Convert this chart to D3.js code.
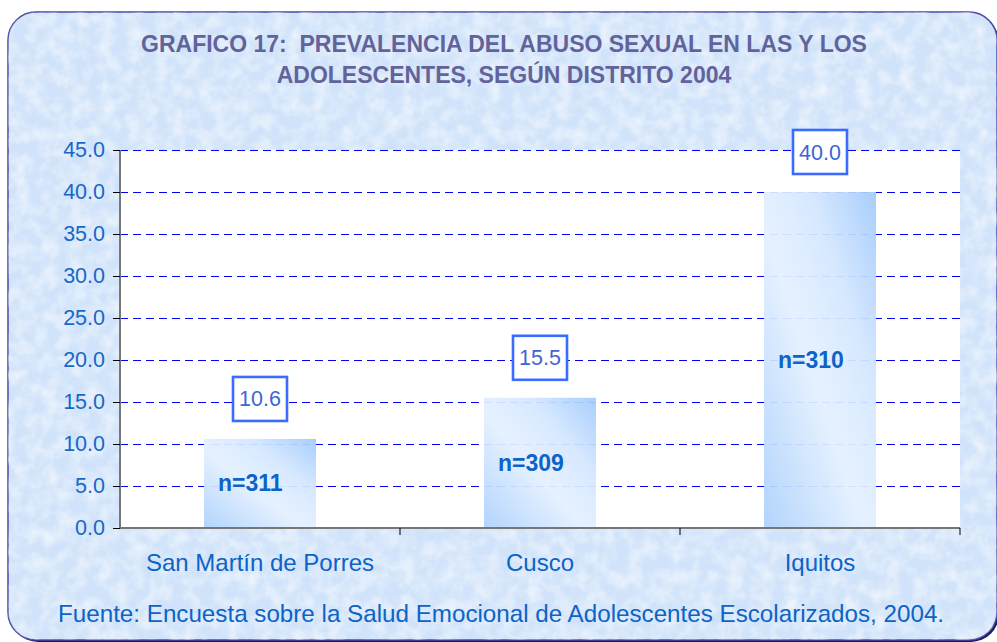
<!DOCTYPE html>
<html>
<head>
<meta charset="utf-8">
<script src="https://cdn.jsdelivr.net/npm/d3@7"></script>
<style>
  html, body { margin: 0; padding: 0; background: #ffffff; }
  svg { display: block; font-family: Arial, "Liberation Sans", sans-serif; }
</style>
</head>
<body>
<svg id="chart" width="997" height="642"></svg>
<script>
// ---- data ----
const categories = ["San Martín de Porres", "Cusco", "Iquitos"];
const values = [10.6, 15.5, 40.0];
const nLabels = ["n=311", "n=309", "n=310"];
const yTicks = [0, 5, 10, 15, 20, 25, 30, 35, 40, 45];
const titleLines = ["GRAFICO 17:  PREVALENCIA DEL ABUSO SEXUAL EN LAS Y LOS", "ADOLESCENTES, SEGÚN DISTRITO 2004"];
const sourceText = "Fuente: Encuesta sobre la Salud Emocional de Adolescentes Escolarizados, 2004.";

// ---- layout ----
const svg = d3.select("#chart");
const plot = { left: 120, right: 960, top: 150, bottom: 528 };

const defs = svg.append("defs");
const filt = defs.append("filter").attr("id", "tex").attr("x", 0).attr("y", 0).attr("width", "100%").attr("height", "100%");
filt.append("feTurbulence").attr("type", "fractalNoise").attr("baseFrequency", 0.07).attr("numOctaves", 3).attr("seed", 4).attr("result", "noise");
filt.append("feColorMatrix").attr("in", "noise").attr("type", "matrix")
  .attr("values", "0 0 0 0 1  0 0 0 0 1  0 0 0 0 1  0 0 0 1.8 -0.6").attr("result", "spots");
filt.append("feComposite").attr("in", "spots").attr("in2", "SourceGraphic").attr("operator", "in");

const grad = defs.append("linearGradient").attr("id", "barGrad")
  .attr("x1", "0").attr("y1", "1").attr("x2", "1").attr("y2", "0");
grad.append("stop").attr("offset", "0%").attr("stop-color", "#acd1fc");
grad.append("stop").attr("offset", "45%").attr("stop-color", "#e4f0ff");
grad.append("stop").attr("offset", "70%").attr("stop-color", "#d4e7ff");
grad.append("stop").attr("offset", "100%").attr("stop-color", "#a2cafb");

const clip = defs.append("clipPath").attr("id", "frameClip");
clip.append("rect").attr("x", 8).attr("y", 12).attr("width", 989).attr("height", 628).attr("rx", 28).attr("ry", 28);

// shadow for bottom-right
svg.append("rect").attr("x", 10).attr("y", 14).attr("width", 989).attr("height", 628)
  .attr("rx", 28).attr("ry", 28).attr("fill", "#1a1a5a");
// frame background
svg.append("rect").attr("x", 8).attr("y", 12).attr("width", 989).attr("height", 628)
  .attr("rx", 28).attr("ry", 28).attr("fill", "#d0e3fa").attr("stroke", "#4a4aa0").attr("stroke-width", 1.5);
svg.append("rect").attr("x", 8).attr("y", 12).attr("width", 989).attr("height", 628)
  .attr("clip-path", "url(#frameClip)").attr("fill", "#eef3fc").attr("filter", "url(#tex)").attr("opacity", 0.6);

// title
svg.append("g").selectAll("text").data(titleLines).join("text")
  .attr("x", 504).attr("y", (d, i) => 52 + i * 31)
  .attr("text-anchor", "middle")
  .style("white-space", "pre")
  .attr("font-size", 23).attr("font-weight", "bold").attr("fill", "#62639b")
  .text(d => d);

// scales
const x = d3.scaleBand().domain(categories).range([plot.left, plot.right]).paddingInner(0.6).paddingOuter(0.3);
const y = d3.scaleLinear().domain([0, 45]).range([plot.bottom, plot.top]);
const step = x.step();

// plot area
svg.append("rect").attr("x", plot.left).attr("y", plot.top)
  .attr("width", plot.right - plot.left).attr("height", plot.bottom - plot.top).attr("fill", "#ffffff");

// gridlines
svg.append("g").selectAll("line").data(yTicks.filter(d => d > 0)).join("line")
  .attr("x1", plot.left).attr("x2", plot.right)
  .attr("y1", d => Math.round(y(d)) + 0.5).attr("y2", d => Math.round(y(d)) + 0.5)
  .attr("stroke", "#0000ff").attr("stroke-width", 1).attr("stroke-dasharray", "8,5");

// bars
svg.append("g").selectAll("rect").data(values).join("rect")
  .attr("x", (d, i) => x(categories[i]))
  .attr("y", d => y(d))
  .attr("width", x.bandwidth())
  .attr("height", d => y(0) - y(d))
  .attr("fill", "url(#barGrad)").attr("fill-opacity", 0.93);

// n labels
svg.append("g").selectAll("text").data(nLabels).join("text")
  .attr("x", (d, i) => x(categories[i]) + 14)
  .attr("y", (d, i) => y(values[i] / 2) + 8)
  .attr("font-size", 23).attr("font-weight", "bold").attr("fill", "#0d63c6")
  .text(d => d);

// y axis
const yAxis = svg.append("g").attr("transform", `translate(${plot.left},0)`)
  .call(d3.axisLeft(y).tickValues(yTicks).tickFormat(d3.format(".1f")).tickSize(7).tickPadding(8));
yAxis.select(".domain").attr("stroke", "#777777").attr("stroke-width", 2).attr("d", `M0,${plot.top}V${plot.bottom}`);
yAxis.selectAll(".tick line").attr("stroke", "#000000");
yAxis.selectAll(".tick text").attr("font-size", 21.5).attr("fill", "#1469c8").attr("font-family", "Arial, 'Liberation Sans', sans-serif");

// x axis
const xAxis = svg.append("g").attr("transform", `translate(0,${plot.bottom})`);
xAxis.append("line").attr("x1", plot.left).attr("x2", plot.right).attr("y1", 0).attr("y2", 0)
  .attr("stroke", "#777777").attr("stroke-width", 2);
xAxis.selectAll("line.tk").data(categories).join("line").attr("class", "tk")
  .attr("x1", d => x(d) - x.step() * x.paddingOuter() + step)
  .attr("x2", d => x(d) - x.step() * x.paddingOuter() + step)
  .attr("y1", 0).attr("y2", 7).attr("stroke", "#000000").attr("stroke-width", 1);
xAxis.selectAll("text").data(categories).join("text")
  .attr("x", d => x(d) + x.bandwidth() / 2)
  .attr("y", 43)
  .attr("text-anchor", "middle")
  .attr("font-size", 24).attr("fill", "#0d63c6")
  .text(d => d);

// value boxes
const vb = svg.append("g").selectAll("g").data(values).join("g")
  .attr("transform", (d, i) => `translate(${x(categories[i]) + x.bandwidth() / 2},${y(d) - 40})`);
vb.append("rect").attr("x", -27).attr("y", -22).attr("width", 54).attr("height", 44)
  .attr("fill", "#ffffff").attr("stroke", "#3a6cff").attr("stroke-width", 2.6);
vb.append("text").attr("y", 7.5).attr("text-anchor", "middle")
  .attr("font-size", 21.5).attr("fill", "#3e64d6")
  .text(d => d3.format(".1f")(d));

// source
svg.append("text").attr("x", 58).attr("y", 622)
  .attr("font-size", 24.2).attr("fill", "#0d63c6")
  .text(sourceText);
</script>
</body>
</html>
